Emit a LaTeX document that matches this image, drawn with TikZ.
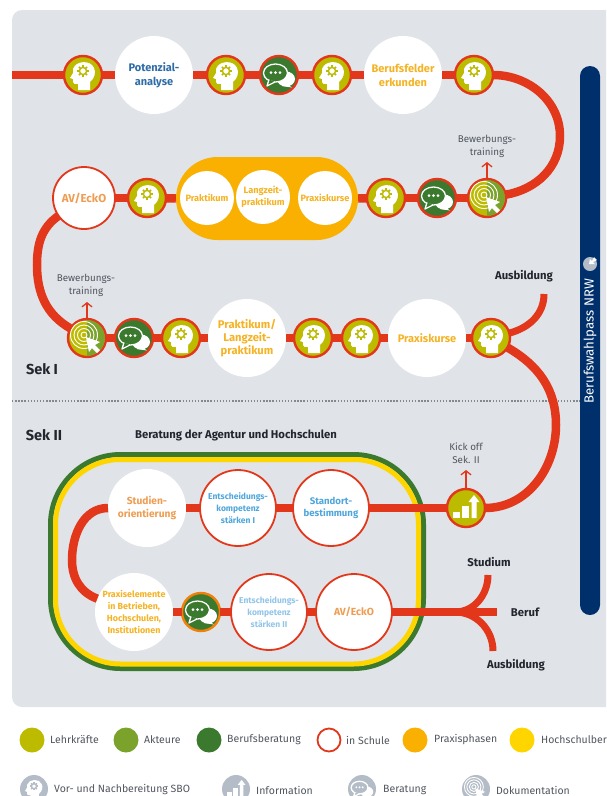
\documentclass[tikz,border=0pt]{standalone}
\usepackage{fontspec}
\setmainfont{Fira Sans}
\usetikzlibrary{arrows.meta}

\definecolor{panelGray}{HTML}{E0E3E8}
\definecolor{sboRed}{HTML}{E2371A}
\definecolor{sboOlive}{HTML}{BDBB00}
\definecolor{sboLeaf}{HTML}{7BA32C}
\definecolor{sboGreen}{HTML}{3B7A2E}
\definecolor{sboOrange}{HTML}{F9B000}
\definecolor{sboYellow}{HTML}{FFD500}
\definecolor{sboNavy}{HTML}{00306B}
\definecolor{iconGray}{HTML}{B4BDC7}
\definecolor{inkGray}{HTML}{50565E}
\definecolor{inkDark}{HTML}{23272D}
\definecolor{txtBlue}{HTML}{2E6CA8}
\definecolor{txtSky}{HTML}{4FA6DC}
\definecolor{txtPale}{HTML}{92C5E8}
\definecolor{txtAmber}{HTML}{F5B324}
\definecolor{txtPeach}{HTML}{EE9D52}

\tikzset{
  route/.style={draw=sboRed,line width=8.5pt},
  branch/.style={draw=sboRed,line width=7pt},
  uparrow/.style={draw=sboRed,line width=1.3pt,-{Straight Barb[length=4pt,width=10pt]}},
  station/.style={circle,inner sep=0pt,outer sep=0pt,align=center,font=\bfseries\fontsize{11}{14}\selectfont},
  bigwhite/.style={station,fill=white,minimum size=78pt},
  schoolring/.style={station,fill=white,draw=sboRed,line width=1.8pt,minimum size=76pt,font=\bfseries\fontsize{8.5}{12}\selectfont},
  smallwhite/.style={station,fill=white,minimum size=54pt,text=txtAmber,font=\bfseries\fontsize{9.2}{12.5}\selectfont},
  iconball/.style={circle,inner sep=0pt,outer sep=0pt,minimum size=38pt,draw=sboRed,line width=2.4pt},
  legball/.style={circle,inner sep=0pt,minimum size=25pt},
  legicon/.style={circle,inner sep=0pt,minimum size=28pt,fill=iconGray},
  legtext/.style={anchor=west,inner sep=0pt,text=inkGray,font=\fontsize{10.5}{12}\selectfont},
  small/.style={align=center,inner sep=0pt,text=inkGray,font=\fontsize{9.8}{13}\selectfont},
  heading/.style={inner sep=0pt,text=inkDark,font=\bfseries\fontsize{11.3}{13}\selectfont},
  seklabel/.style={inner sep=0pt,text=inkDark,font=\bfseries\fontsize{14.5}{16}\selectfont},
  pics/headicon/.style={code={
    \fill[white] (7,15) -- (7,7) .. controls (12,3) and (13,-3) .. (11,-7) .. controls (8,-15) and (-7,-15) .. (-10,-6)
      .. controls (-10,-4) and (-10,-3) .. (-10,-2) -- (-13,3) -- (-10,4) -- (-10,7) .. controls (-10,9) and (-8,9) .. (-5,9) -- (-5,15) -- cycle;
    \draw[#1,line width=1.4pt] (0,-4) circle (3.6);
    \foreach \ang in {0,45,...,315}
      \draw[#1,line width=1.5pt] (0,-4) ++(\ang:3.6) -- ++(\ang:2.2);
  }},
  pics/chaticon/.style={code={
    \fill[white] (7,4) ellipse (9 and 7.5);
    \fill[white] (8,9) -- (13,12.5) -- (3,11) -- cycle;
    \draw[white,line width=1.3pt,fill=#1] (-3.5,-2) ellipse (12 and 9);
    \draw[white,line width=1.3pt,fill=#1,line join=round] (-10,4.5) -- (-12,11) -- (-4,7);
    \fill[#1] (-10,3) -- (-4,6) -- (-4,2) -- cycle;
    \foreach \dotx in {-8,-3.5,1}
      \fill[white] (\dotx,-2.5) circle (1.5);
  }},
  pics/targeticon/.style={code={
    \foreach \rad in {3,6.5,10,13.5}
      \draw[white,line width=.9pt] (-3,-3) circle (\rad);
    \fill[white] (-1,-1) -- (13,4) -- (8,7) -- (13,12) -- (10,15) -- (5,10) -- (2,14) -- cycle;
  }},
  pics/barsicon/.style={code={
    \fill[white] (-13,10) rectangle (-6,4);
    \fill[white] (-4,10) rectangle (3,-2);
    \fill[white] (5.5,10) -- (5.5,-6) -- (2.5,-6) -- (8,-13) -- (13.5,-6) -- (10.5,-6) -- (10.5,10) -- cycle;
  }},
}

\begin{document}
\begin{tikzpicture}[x=1pt,y=-1pt]

	\clip (0,0) rectangle (606,796);
	\fill[panelGray,rounded corners=10pt] (12,10) rectangle (640,707);
	\draw[inkGray!70,line width=1.4pt,dash pattern=on 1.4pt off 1.7pt] (12,401) -- (580,401);

	% side bar
	\node[fill=sboNavy,rounded corners=10pt,minimum width=20pt,minimum height=549pt,inner sep=0pt] (passbar) at (590,340.5) {};
	\node[rotate=90,text=white,inner sep=0pt,font=\fontsize{13.2}{15}\selectfont] (passtext) at (590,341.5) {Berufswahlpass NRW};
	\node[circle,fill=iconGray,minimum size=14pt,inner sep=0pt] (passlogo) at (590,264) {};
	\fill[white] (589,264) -- (590,259) -- (592,261) -- (594,257) -- (597,260) -- (593,262) -- (595,264) -- cycle;

	% hochschul ring
	\draw[sboGreen,line width=5pt,rounded corners=70pt] (50.5,454.5) rectangle (423.5,668.5);
	\draw[sboYellow,line width=5pt,rounded corners=65pt] (55.5,459.5) rectangle (418.5,664);

	% pill of the praxisphasen
	\node[fill=sboOrange,rounded corners=41.5pt,minimum width=182pt,minimum height=83pt,inner sep=0pt] (pill) at (267,198.5) {};

	% stations
	\node[bigwhite,text=txtBlue] (potenzial) at (154,75) {Potenzial-\\analyse};
	\node[bigwhite,text=txtAmber] (felder) at (403,75) {Berufsfelder\\erkunden};
	\node[station,fill=white,draw=sboRed,line width=1.8pt,minimum size=62pt,text=txtPeach,font=\bfseries\fontsize{11.5}{14}\selectfont] (avA) at (84,198) {AV/EckO};
	\node[smallwhite] (praktikum) at (207,198) {Praktikum};
	\node[smallwhite] (langzeit) at (263,197) {Langzeit-\\praktikum};
	\node[smallwhite] (kurseA) at (325,198) {Praxiskurse};
	\node[bigwhite,text=txtAmber,font=\bfseries\fontsize{11.2}{13.2}\selectfont] (praklang) at (247,338) {Praktikum/\\Langzeit-\\praktikum};
	\node[bigwhite,text=txtAmber] (kurseB) at (427,338) {Praxiskurse};
	\node[bigwhite,text=txtPeach,font=\bfseries\fontsize{10.2}{12.5}\selectfont] (studien) at (147,508) {Studien-\\orientierung};
	\node[schoolring,text=txtSky] (entschA) at (238,508) {Entscheidungs-\\kompetenz\\stärken I};
	\node[schoolring,text=txtSky,font=\bfseries\fontsize{9.6}{12.5}\selectfont] (standort) at (331,508) {Standort-\\bestimmung};
	\node[bigwhite,text=txtAmber,font=\bfseries\fontsize{8.9}{11.7}\selectfont] (praxisel) at (134,612) {Praxiselemente\\in Betrieben,\\Hochschulen,\\Institutionen};
	\node[schoolring,text=txtPale] (entschB) at (269,612) {Entscheidungs-\\kompetenz\\stärken II};
	\node[schoolring,text=txtPeach,font=\bfseries\fontsize{10.3}{12}\selectfont] (avB) at (354,612) {AV/EckO};

	% icon stations
	\foreach \name/\px/\py in {headA/83/75,headB/226/75,headC/332/75,headD/474/75,headE/147/198,headF/386/198,headG/181/338,headH/313/338,headI/361/338,headJ/491/338}{
		\node[iconball,fill=sboOlive] (\name) at (\px,\py) {};
		\pic at (\name) {headicon=sboOlive};
	}
	\foreach \name/\px/\py in {chatA/279/75,chatB/437/198,chatC/134/338}{
		\node[iconball,fill=sboGreen] (\name) at (\px,\py) {};
		\pic at (\name) {chaticon=sboGreen};
	}
	\node[iconball,fill=sboGreen,draw=sboOrange!60!sboRed] (chatD) at (201,612) {};
	\pic at (chatD) {chaticon=sboGreen};
	\foreach \name/\px/\py in {docA/487/198,docB/87/338}{
		\node[iconball,fill=sboOlive] (\name) at (\px,\py) {};
		\fill[sboLeaf] (\px,\py-18) arc[start angle=-90,end angle=90,radius=18] -- cycle;
		\pic at (\name) {targeticon};
	}
	\node[iconball,fill=sboOlive] (kick) at (466,508) {};
	\pic at (kick) {barsicon};

	% free ends of the lines
	\coordinate (start) at (12,75);
	\coordinate (bendA) at (560,136);
	\coordinate (bendB) at (37,265);
	\coordinate (bendC) at (556,425);
	\coordinate (bendD) at (72,560);
	\coordinate (endAus) at (544,294);
	\coordinate (fork) at (455,612);
	\coordinate (endBeruf) at (497,612);
	\coordinate (endStud) at (488,575);
	\coordinate (endAusB) at (493,651);
	\coordinate (tipA) at (487,162);
	\coordinate (tipB) at (87,302);
	\coordinate (tipC) at (466,470);

	% first row
	\draw[route] (start) -- (headA);
	\draw[route] (headA) -- (potenzial);
	\draw[route] (potenzial) -- (headB);
	\draw[route] (headB) -- (chatA);
	\draw[route] (chatA) -- (headC);
	\draw[route] (headC) -- (felder);
	\draw[route] (felder) -- (headD);
	\draw[route] (headD) to[out=0,in=90] (bendA) to[out=-90,in=10] (docA);
	% second row
	\draw[route] (docA) -- (chatB);
	\draw[route] (chatB) -- (headF);
	\draw[route] (headF) -- (pill.east);
	\draw[route] (pill.west) -- (headE);
	\draw[route] (headE) -- (avA);
	\draw[route] (avA) to[out=215,in=90] (bendB) to[out=-90,in=150] (docB);
	% third row
	\draw[route] (docB) -- (chatC);
	\draw[route] (chatC) -- (headG);
	\draw[route] (headG) -- (praklang);
	\draw[route] (praklang) -- (headH);
	\draw[route] (headH) -- (headI);
	\draw[route] (headI) -- (kurseB);
	\draw[route] (kurseB) -- (headJ);
	\draw[branch] (endAus) to[out=-90,in=15] (headJ);
	\draw[route] (headJ) to[out=-30,in=90] (bendC) to[out=-90,in=0] (kick);
	% sek II
	\draw[route] (kick) -- (standort);
	\draw[route] (standort) -- (entschA);
	\draw[route] (entschA) -- (studien);
	\draw[route] (studien) to[out=180,in=90] (bendD) to[out=-90,in=160] (praxisel);
	\draw[route] (praxisel) -- (chatD);
	\draw[route] (chatD) -- (entschB);
	\draw[route] (entschB) -- (avB);
	\draw[route] (avB) -- (endBeruf);
	\draw[branch] (endStud) to[out=-90,in=0] (fork);
	\draw[branch] (endAusB) to[out=90,in=0] (fork);

	% arrows up
	\draw[uparrow] (docA) -- (tipA);
	\draw[uparrow] (docB) -- (tipB);
	\draw[uparrow] (kick) -- (tipC);

	% labels
	\node[small] (bewA) at (487,146) {Bewerbungs-\\training};
	\node[small] (bewB) at (86,285) {Bewerbungs-\\training};
	\node[small] (kickoff) at (466,453) {Kick off\\Sek. II};
	\node[heading] (ausA) at (524,276) {Ausbildung};
	\node[heading] (studium) at (489,562) {Studium};
	\node[heading] (beruf) at (525,612) {Beruf};
	\node[heading] (ausB) at (516,665) {Ausbildung};
	\node[seklabel] (seka) at (42,369) {Sek I};
	\node[seklabel] (sekb) at (44,435) {Sek II};
	\node[heading] (beratung) at (236,435) {Beratung der Agentur und Hochschulen};

	% legend, colours
	\node[legball,fill=sboOlive] (legA) at (32,740) {};
	\node[legtext] (legAt) at (50,740) {Lehrkräfte};
	\node[legball,fill=sboLeaf] (legB) at (126,740) {};
	\node[legtext] (legBt) at (144,740) {Akteure};
	\node[legball,fill=sboGreen] (legC) at (209,740) {};
	\node[legtext] (legCt) at (227,740) {Berufsberatung};
	\node[legball,fill=white,draw=sboRed,line width=1.8pt,minimum size=23pt] (legD) at (329,740) {};
	\node[legtext] (legDt) at (346,740) {in Schule};
	\node[legball,fill=sboOrange] (legE) at (415,740) {};
	\node[legtext] (legEt) at (434,740) {Praxisphasen};
	\node[legball,fill=sboYellow] (legF) at (522,740) {};
	\node[legtext] (legFt) at (541,740) {Hochschulber};

	% legend, icons
	\node[legicon] (icoA) at (34,789) {};
	\pic[scale=.7] at (icoA) {headicon=iconGray};
	\node[legtext] (icoAt) at (54,790) {Vor- und Nachbereitung SBO};
	\node[legicon] (icoB) at (236,789) {};
	\pic[scale=.7] at (icoB) {barsicon};
	\node[legtext] (icoBt) at (256,790) {Information};
	\node[legicon] (icoC) at (362,789) {};
	\pic[scale=.7] at (icoC) {chaticon=iconGray};
	\node[legtext] (icoCt) at (383,790) {Beratung};
	\node[legicon] (icoD) at (476,789) {};
	\pic[scale=.7] at (icoD) {targeticon};
	\node[legtext] (icoDt) at (496,790) {Dokumentation};

\end{tikzpicture}
\end{document}
